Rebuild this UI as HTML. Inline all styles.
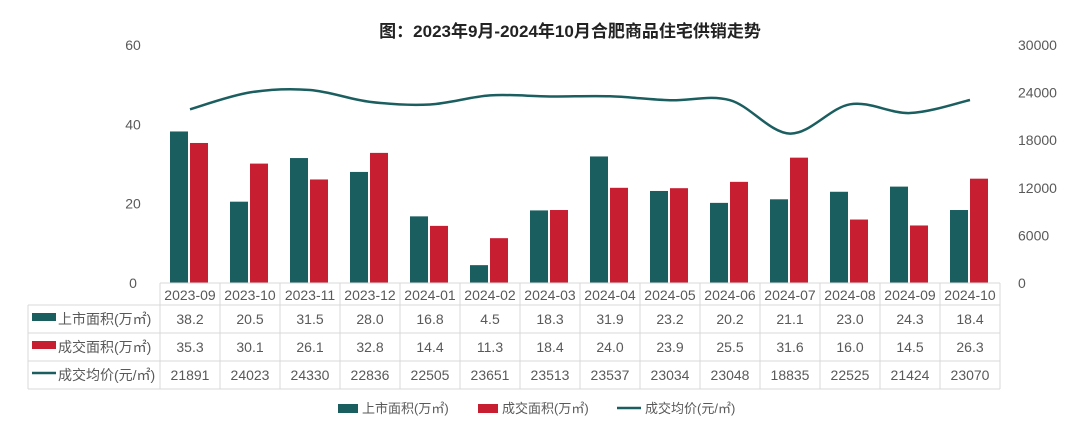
<!DOCTYPE html>
<html><head><meta charset="utf-8"><style>
body{margin:0;background:#fff;width:1080px;height:435px;overflow:hidden;font-family:"Liberation Sans","Noto Sans CJK SC",sans-serif}
</style></head><body>
<svg id="s" width="1080" height="435" xmlns="http://www.w3.org/2000/svg" font-family="Liberation Sans, Noto Sans CJK SC, sans-serif"></svg>
<script>
const sup=[38.2,20.5,31.5,28.0,16.8,4.5,18.3,31.9,23.2,20.2,21.1,23.0,24.3,18.4];
const sal=[35.3,30.1,26.1,32.8,14.4,11.3,18.4,24.0,23.9,25.5,31.6,16.0,14.5,26.3];
const pr=[21891,24023,24330,22836,22505,23651,23513,23537,23034,23048,18835,22525,21424,23070];
const lab=["2023-09","2023-10","2023-11","2023-12","2024-01","2024-02","2024-03","2024-04","2024-05","2024-06","2024-07","2024-08","2024-09","2024-10"];
const T="#1b5e60",R="#c81e32",G="#595959",B="#d9d9d9";
const y0=283,H=238;
let s=`<text x="570" y="37" text-anchor="middle" font-size="17" font-weight="bold" fill="#222">图：2023年9月-2024年10月合肥商品住宅供销走势</text>`;
[0,20,40,60].forEach(v=>{s+=`<text x="133" y="${y0-v/60*H+5}" text-anchor="middle" font-size="14" fill="${G}">${v}</text>`});
[0,6000,12000,18000,24000,30000].forEach(v=>{s+=`<text x="1018" y="${y0-v/30000*H+5}" font-size="14" fill="${G}">${v}</text>`});
let pts=[];
for(let i=0;i<14;i++){const cx=190+60*i;
const h1=sup[i]/60*H,h2=sal[i]/60*H;
s+=`<rect x="${cx-20}" y="${y0-h1}" width="18" height="${h1}" fill="${T}"/><rect x="${cx}" y="${y0-h2}" width="18" height="${h2}" fill="${R}"/>`;
pts.push([cx,y0-pr[i]/30000*H]);}
let d=`M${pts[0][0]},${pts[0][1]}`;
for(let i=0;i<13;i++){const p0=pts[Math.max(0,i-1)],p1=pts[i],p2=pts[i+1],p3=pts[Math.min(13,i+2)];
d+=` C${p1[0]+(p2[0]-p0[0])/6},${p1[1]+(p2[1]-p0[1])/6} ${p2[0]-(p3[0]-p1[0])/6},${p2[1]-(p3[1]-p1[1])/6} ${p2[0]},${p2[1]}`;}
s+=`<path d="${d}" fill="none" stroke="${T}" stroke-width="2.5"/>`;
for(let i=0;i<=14;i++){const x=160+60*i;s+=`<line x1="${x}" y1="283" x2="${x}" y2="389" stroke="${B}"/>`;}
s+=`<line x1="28" y1="305" x2="28" y2="389" stroke="${B}"/>`;
[305,333,361,389].forEach(y=>{s+=`<line x1="28" y1="${y}" x2="1000" y2="${y}" stroke="${B}"/>`});
s+=`<line x1="160" y1="283" x2="1000" y2="283" stroke="${B}"/>`;
for(let i=0;i<14;i++){const cx=190+60*i;
s+=`<text x="${cx}" y="300" text-anchor="middle" font-size="14" fill="${G}">${lab[i]}</text>`;
s+=`<text x="${cx}" y="324" text-anchor="middle" font-size="14" fill="${G}">${sup[i].toFixed(1)}</text>`;
s+=`<text x="${cx}" y="352" text-anchor="middle" font-size="14" fill="${G}">${sal[i].toFixed(1)}</text>`;
s+=`<text x="${cx}" y="380" text-anchor="middle" font-size="14" fill="${G}">${pr[i]}</text>`;}
s+=`<rect x="32" y="313" width="24" height="8" fill="${T}"/><text x="58" y="324" font-size="14" fill="${G}">上市面积(万㎡)</text>`;
s+=`<rect x="32" y="341" width="24" height="8" fill="${R}"/><text x="58" y="352" font-size="14" fill="${G}">成交面积(万㎡)</text>`;
s+=`<line x1="32" y1="373" x2="56" y2="373" stroke="${T}" stroke-width="2.5"/><text x="58" y="380" font-size="14" fill="${G}">成交均价(元/㎡)</text>`;
s+=`<rect x="338" y="404" width="20" height="9" fill="${T}"/><text x="362" y="413" font-size="13" fill="${G}">上市面积(万㎡)</text>`;
s+=`<rect x="478" y="404" width="20" height="9" fill="${R}"/><text x="502" y="413" font-size="13" fill="${G}">成交面积(万㎡)</text>`;
s+=`<line x1="617" y1="408" x2="641" y2="408" stroke="${T}" stroke-width="2.5"/><text x="645" y="413" font-size="13" fill="${G}">成交均价(元/㎡)</text>`;
document.getElementById('s').innerHTML=s;
</script>
</body></html>
